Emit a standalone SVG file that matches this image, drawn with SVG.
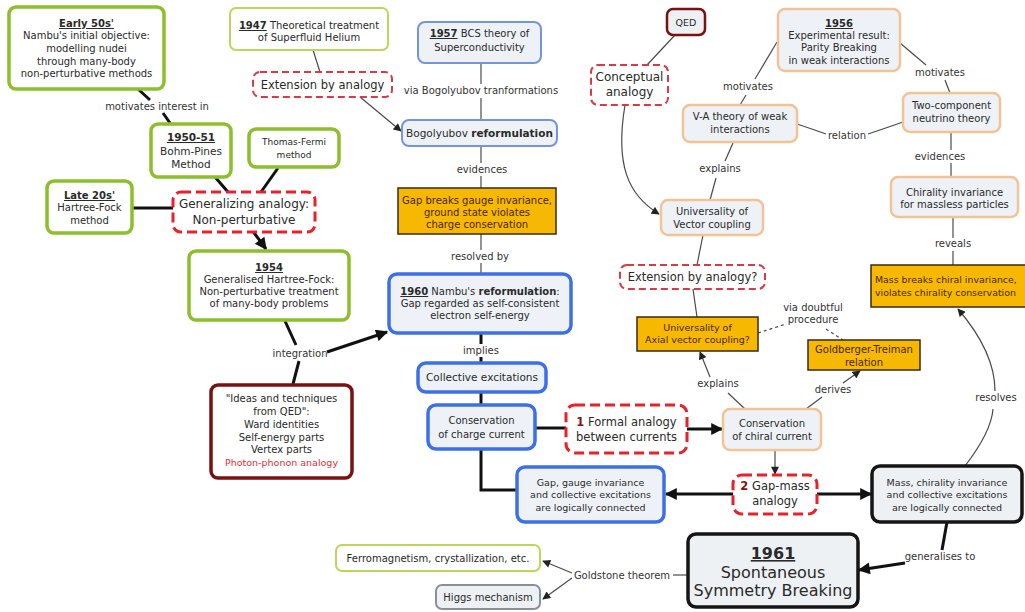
<svg xmlns="http://www.w3.org/2000/svg" width="1025" height="612" viewBox="0 0 1025 612">
<style>
text{font-family:"DejaVu Sans",Verdana,sans-serif;font-size:10px;fill:#2a2a2a;text-anchor:middle}
.lb{fill:#333}
.b{font-weight:bold}
.u{font-weight:bold;text-decoration:underline}
.gthick{fill:#fff;stroke:#8dbe2b;stroke-width:3.5}
.gthin{fill:#fff;stroke:#bcd65e;stroke-width:2}
.bthick{fill:#eef2f7;stroke:#3d6fe6;stroke-width:3.5}
.bthin{fill:#eef2f7;stroke:#7594de;stroke-width:2}
.orl{fill:#eef2f6;stroke:#f2c394;stroke-width:2.5}
.rdash{fill:#fff;stroke:#e8212a;stroke-width:3;stroke-dasharray:10 5}
.rdash2{fill:#fff;stroke:#d83a48;stroke-width:2;stroke-dasharray:7 4}
.gold{fill:#f6b800;stroke:#3a2a10;stroke-width:1.5}
.gold-t{fill:#4a2600}
.blk{fill:#eef1f4;stroke:#151515;stroke-width:3.5}
.dred{fill:#fff;stroke:#7a1010;stroke-width:3.5}
.grey{fill:#eef1f4;stroke:#8a9099;stroke-width:2}
.c1{fill:none;stroke:#4a4a4a;stroke-width:1.2}
.c3{fill:none;stroke:#111;stroke-width:3}
</style>
<defs>
<marker id="ah3" viewBox="0 0 10 10" refX="9" refY="5" markerUnits="userSpaceOnUse" markerWidth="13" markerHeight="12" orient="auto"><path d="M0,0 L10,5 L0,10 z" fill="#111"/></marker>
<marker id="ah1" viewBox="0 0 10 10" refX="9" refY="5" markerUnits="userSpaceOnUse" markerWidth="9" markerHeight="8" orient="auto"><path d="M0,0 L10,5 L0,10 z" fill="#222"/></marker>
</defs>
<rect width="1025" height="612" fill="#fff"/>

<g id="connectors">
<path class="c3" d="M138,89 L150,100"/>
<path class="c3" d="M163,113 L170,123"/>
<path class="c3" d="M215,177 L228,192"/>
<path class="c3" d="M278,168 L261,192"/>
<path class="c3" d="M132,208 L173,208"/>
<path class="c3" d="M252,230 L266,249" marker-end="url(#ah3)"/>
<path class="c3" d="M285,321 L296,345"/>
<path class="c3" d="M299,361 L293,384"/>
<path class="c3" d="M327,352 L387,332" marker-end="url(#ah3)"/>
<path class="c3" d="M481,333 L481,344"/>
<path class="c3" d="M481,357 L481,363"/>
<path class="c3" d="M481,392 L481,405"/>
<path class="c3" d="M481,449 V490 H516"/>
<path class="c3" d="M535,428 L566,428"/>
<path class="c3" d="M687,429 L722,429" marker-end="url(#ah3)"/>
<path class="c3" d="M733,494 L666,494" marker-end="url(#ah3)"/>
<path class="c3" d="M817,494 L871,494" marker-end="url(#ah3)"/>
<path class="c3" d="M947,522 L942,550"/>
<path class="c3" d="M905,563 L859,570" marker-end="url(#ah3)"/>

<path class="c1" d="M313,50 L320,72"/>
<path class="c1" d="M360,97 L401,131" marker-end="url(#ah1)"/>
<path class="c1" d="M481,63 V84"/>
<path class="c1" d="M481,98 V120"/>
<path class="c1" d="M481,146 V163"/>
<path class="c1" d="M481,176 V188"/>
<path class="c1" d="M481,234 V250"/>
<path class="c1" d="M481,263 V274"/>
<path class="c1" d="M675,35 L647,65"/>
<path class="c1" d="M625,105 C615,165 628,195 659,214" marker-end="url(#ah1)"/>
<path class="c1" d="M777,42 L755,79"/>
<path class="c1" d="M746,95 L740,105"/>
<path class="c1" d="M900,43 L926,65"/>
<path class="c1" d="M945,80 L950,93"/>
<path class="c1" d="M797,124 Q812,129 826,134"/>
<path class="c1" d="M868,134 Q886,128 903,122"/>
<path class="c1" d="M733,143 L725,161"/>
<path class="c1" d="M716,178 L710,200"/>
<path class="c1" d="M951,132 V150"/>
<path class="c1" d="M951,163 V177"/>
<path class="c1" d="M953,217 V238"/>
<path class="c1" d="M953,251 V265"/>
<path class="c1" d="M703,235 L697,265"/>
<path class="c1" d="M693,289 L697,317"/>
<path class="c1" d="M758,333 L786,324" stroke-dasharray="3 3"/>
<path class="c1" d="M826,329 L843,340" stroke-dasharray="3 3"/>
<path class="c1" d="M710,377 L700,352" marker-end="url(#ah1)"/>
<path class="c1" d="M728,393 L745,409"/>
<path class="c1" d="M806,409 L822,397"/>
<path class="c1" d="M843,383 L860,371" marker-end="url(#ah1)"/>
<path class="c1" d="M775,450 L775,474" marker-end="url(#ah1)"/>
<path class="c1" d="M965,466 C985,440 992,422 993,409"/>
<path class="c1" d="M995,391 C995,360 976,330 958,309" marker-end="url(#ah1)"/>
<path class="c1" d="M673,575 L688,575"/>
<path class="c1" d="M572,573 L543,561" marker-end="url(#ah1)"/>
<path class="c1" d="M572,578 L543,599" marker-end="url(#ah1)"/>

<text class="lb" x="157" y="110">motivates interest in</text>
<text class="lb" x="300" y="357">integration</text>
<text class="lb" x="481" y="94">via Bogolyubov tranformations</text>
<text class="lb" x="482" y="173">evidences</text>
<text class="lb" x="480" y="260">resolved by</text>
<text class="lb" x="481" y="354">implies</text>
<text class="lb" x="748" y="90">motivates</text>
<text class="lb" x="940" y="76">motivates</text>
<text class="lb" x="847" y="139">relation</text>
<text class="lb" x="720" y="172">explains</text>
<text class="lb" x="940" y="160">evidences</text>
<text class="lb" x="953" y="247">reveals</text>
<text class="lb" x="813" y="311">via doubtful</text>
<text class="lb" x="813" y="323">procedure</text>
<text class="lb" x="718" y="387">explains</text>
<text class="lb" x="833" y="393">derives</text>
<text class="lb" x="996" y="401">resolves</text>
<text class="lb" x="940" y="560">generalises to</text>
<text class="lb" x="622" y="579">Goldstone theorem</text>
</g>

<g id="early50"><rect class="gthick" x="9" y="7" width="155" height="82" rx="7"/>
<text x="86.5" y="27"><tspan class="u">Early 50s'</tspan></text>
<text x="86.5" y="39">Nambu's initial objective:</text>
<text x="86.5" y="52">modelling nudei</text>
<text x="86.5" y="65">through many-body</text>
<text x="86.5" y="77">non-perturbative methods</text></g>

<g id="bohm"><rect class="gthick" x="151" y="124" width="80" height="53" rx="7"/>
<text x="191" y="141" style="font-size:10.5px"><tspan class="u">1950-51</tspan></text>
<text x="191" y="155" style="font-size:10.5px">Bohm-Pines</text>
<text x="191" y="168" style="font-size:10.5px">Method</text></g>

<g id="thomas"><rect class="gthick" x="249" y="129" width="90" height="38" rx="7"/>
<text x="294" y="145" style="font-size:9px">Thomas-Fermi</text>
<text x="294" y="158" style="font-size:9px">method</text></g>

<g id="late20"><rect class="gthick" x="47" y="181" width="85" height="52" rx="7"/>
<text x="89.5" y="199"><tspan class="u">Late 20s'</tspan></text>
<text x="89.5" y="211">Hartree-Fock</text>
<text x="89.5" y="224">method</text></g>

<g id="genanalogy"><rect class="rdash" x="173" y="192" width="142" height="40" rx="8"/>
<text x="244" y="208" style="font-size:12px">Generalizing analogy:</text>
<text x="244" y="224" style="font-size:12px">Non-perturbative</text></g>

<g id="hf1954"><rect class="gthick" x="189" y="251" width="160" height="69" rx="7"/>
<text x="269" y="271"><tspan class="u">1954</tspan></text>
<text x="269" y="283">Generalised Hartree-Fock:</text>
<text x="269" y="295">Non-perturbative treatment</text>
<text x="269" y="307">of many-body problems</text></g>

<g id="helium1947"><rect class="gthin" x="230" y="8" width="158" height="42" rx="6"/>
<text x="309" y="29"><tspan class="u">1947</tspan> Theoretical treatment</text>
<text x="309" y="41">of Superfluid Helium</text></g>

<g id="ext1"><rect class="rdash2" x="253" y="72" width="139" height="25" rx="7"/>
<text x="322.5" y="89" style="font-size:11.5px">Extension by analogy</text></g>

<g id="bcs"><rect class="bthin" x="418" y="22" width="123" height="41" rx="7"/>
<text x="479.5" y="37"><tspan class="u">1957</tspan> BCS theory of</text>
<text x="479.5" y="51">Superconductivity</text></g>

<g id="bogo"><rect class="bthin" x="402" y="120" width="155" height="26" rx="7"/>
<text x="479.5" y="137" style="font-size:10.5px">Bogolyubov <tspan class="b">reformulation</tspan></text></g>

<g id="gapbreaks"><rect class="gold" x="398" y="188" width="158" height="46"/>
<text class="gold-t" x="477" y="204">Gap breaks gauge invariance,</text>
<text class="gold-t" x="477" y="216">ground state violates</text>
<text class="gold-t" x="477" y="228">charge conservation</text></g>

<g id="nambu1960"><rect class="bthick" x="389" y="274" width="182" height="59" rx="8"/>
<text x="480" y="295"><tspan class="u">1960</tspan> Nambu's <tspan class="b">reformulation</tspan>:</text>
<text x="480" y="307">Gap regarded as self-consistent</text>
<text x="480" y="319">electron self-energy</text></g>

<g id="collective"><rect class="bthick" x="418" y="363" width="128" height="29" rx="8"/>
<text x="482" y="381" style="font-size:10.5px">Collective excitations</text></g>

<g id="chargecurrent"><rect class="bthick" x="428" y="405" width="107" height="44" rx="8"/>
<text x="481.5" y="424">Conservation</text>
<text x="481.5" y="438">of charge current</text></g>

<g id="formal1"><rect class="rdash" x="566" y="405" width="121" height="48" rx="9"/>
<text x="626.5" y="426" style="font-size:11.5px"><tspan class="b" fill="#8a1010">1</tspan> Formal analogy</text>
<text x="626.5" y="441" style="font-size:11.5px">between currents</text></g>

<g id="chiralcurrent"><rect class="orl" x="723" y="409" width="98" height="41" rx="7"/>
<text x="772" y="427">Conservation</text>
<text x="772" y="440">of chiral current</text></g>

<g id="gapgauge"><rect class="bthick" x="517" y="467" width="147" height="55" rx="8"/>
<text x="590.5" y="486" style="font-size:9.5px">Gap, gauge invariance</text>
<text x="590.5" y="498" style="font-size:9.5px">and collective excitations</text>
<text x="590.5" y="511" style="font-size:9.5px">are logically connected</text></g>

<g id="gapmass2"><rect class="rdash" x="733" y="475" width="84" height="39" rx="9"/>
<text x="775" y="490" style="font-size:11.5px"><tspan class="b" fill="#8a1010">2</tspan> Gap-mass</text>
<text x="775" y="505" style="font-size:11.5px">analogy</text></g>

<g id="masschirality"><rect class="blk" x="872" y="466" width="150" height="56" rx="8"/>
<text x="947" y="486" style="font-size:9.5px">Mass, chirality invariance</text>
<text x="947" y="498" style="font-size:9.5px">and collective excitations</text>
<text x="947" y="511" style="font-size:9.5px">are logically connected</text></g>

<g id="ssb1961"><rect class="blk" x="688" y="534" width="170" height="73" rx="8"/>
<text x="773" y="559" style="font-size:16px"><tspan class="u">1961</tspan></text>
<text x="773" y="578" style="font-size:16px">Spontaneous</text>
<text x="773" y="596" style="font-size:16px">Symmetry Breaking</text></g>

<g id="ferro"><rect class="gthin" x="336" y="545" width="204" height="26" rx="6"/>
<text x="438" y="562">Ferromagnetism, crystallization, etc.</text></g>

<g id="higgs"><rect class="grey" x="436" y="585" width="104" height="24" rx="6"/>
<text x="488" y="601">Higgs mechanism</text></g>

<g id="ideasqed"><rect class="dred" x="211" y="385" width="141" height="93" rx="7"/>
<text x="281.5" y="402">"Ideas and techniques</text>
<text x="281.5" y="415">from QED":</text>
<text x="281.5" y="428">Ward identities</text>
<text x="281.5" y="441">Self-energy parts</text>
<text x="281.5" y="453">Vertex parts</text>
<text x="281.5" y="466" style="font-size:9.5px;fill:#e0303a">Photon-phonon analogy</text></g>

<g id="qed"><rect class="dred" style="stroke-width:2.5;fill:#eef1f4" x="667" y="9" width="38" height="26" rx="6"/>
<text x="686" y="26" style="font-size:9.5px">QED</text></g>

<g id="conceptual"><rect class="rdash2" x="591" y="65" width="77" height="40" rx="7"/>
<text x="629.5" y="81" style="font-size:12px">Conceptual</text>
<text x="629.5" y="96" style="font-size:12px">analogy</text></g>

<g id="parity1956"><rect class="orl" x="778" y="9" width="122" height="62" rx="7"/>
<text x="839" y="27"><tspan class="u">1956</tspan></text>
<text x="839" y="39">Experimental result:</text>
<text x="839" y="51">Parity Breaking</text>
<text x="839" y="64">in weak interactions</text></g>

<g id="va"><rect class="orl" x="683" y="105" width="114" height="37" rx="7"/>
<text x="740" y="120">V-A theory of weak</text>
<text x="740" y="133">interactions</text></g>

<g id="twocomp"><rect class="orl" x="903" y="93" width="97" height="39" rx="7"/>
<text x="951.5" y="109">Two-component</text>
<text x="951.5" y="122">neutrino theory</text></g>

<g id="chirinv"><rect class="orl" x="891" y="177" width="127" height="40" rx="7"/>
<text x="954.5" y="196">Chirality invariance</text>
<text x="954.5" y="208">for massless particles</text></g>

<g id="univvector"><rect class="orl" x="661" y="200" width="102" height="35" rx="7"/>
<text x="712" y="215">Universality of</text>
<text x="712" y="228">Vector coupling</text></g>

<g id="ext2"><rect class="rdash2" x="620" y="265" width="145" height="24" rx="7"/>
<text x="692.5" y="281" style="font-size:11.5px">Extension by analogy?</text></g>

<g id="univaxial"><rect class="gold" x="637" y="317" width="121" height="34"/>
<text class="gold-t" x="697.5" y="331" style="font-size:9.5px">Universality of</text>
<text class="gold-t" x="697.5" y="343" style="font-size:9.5px">Axial vector coupling?</text></g>

<g id="gt"><rect class="gold" x="808" y="340" width="112" height="30"/>
<text class="gold-t" x="864" y="353">Goldberger-Treiman</text>
<text class="gold-t" x="864" y="366">relation</text></g>

<g id="massbreaks"><rect class="gold" x="871" y="265" width="165" height="42"/>
<text class="gold-t" x="875" y="283" style="text-anchor:start;font-size:9.4px">Mass breaks chiral invariance,</text>
<text class="gold-t" x="875" y="296" style="text-anchor:start;font-size:9.4px">violates chirality conservation</text></g>
</svg>
